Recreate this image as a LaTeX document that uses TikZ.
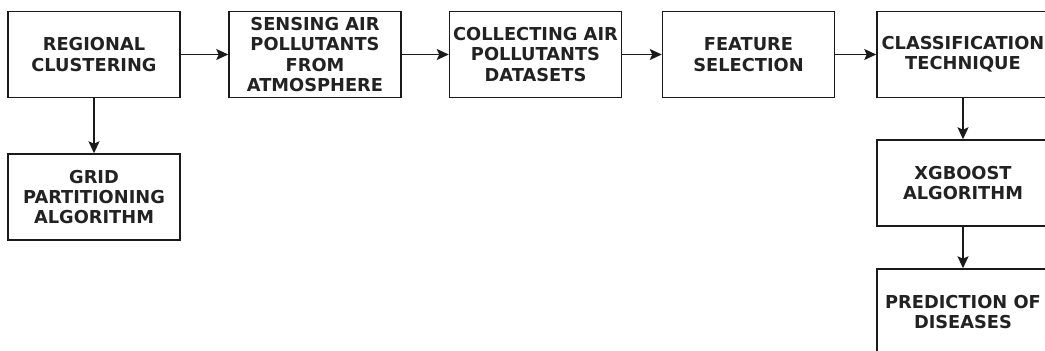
\documentclass[tikz,border=0pt]{standalone}
\usepackage{fontspec}
\setmainfont{DejaVu Sans}
\usetikzlibrary{arrows.meta}
\definecolor{inkline}{HTML}{1A1A1A}
\definecolor{inktext}{HTML}{222222}
\tikzset{
  stepbox/.style={draw=inkline, line width=1.5pt, minimum width=172pt, minimum height=86pt,
    inner sep=0pt, align=center, text=inktext,
    font=\fontsize{17.8pt}{20.3pt}\selectfont\bfseries},
  flow/.style={draw=inkline, line width=1.5pt, -{Stealth[length=12pt,width=11pt,inset=2.5pt]}}
}
\begin{document}
\begin{tikzpicture}[x=1pt,y=-1pt]
\useasboundingbox (0,0) rectangle (1045,351);
\clip (0,0) rectangle (1045,351);
\fill[white] (0,0) rectangle (1045,351);
% top row of the pipeline
\node[stepbox] (reg)  at (94,54.5)  {REGIONAL\\CLUSTERING};
\node[stepbox] (sens) at (315,54.5) {SENSING AIR\\POLLUTANTS\\FROM\\ATMOSPHERE};
\node[stepbox] (coll) at (535.5,54.5) {COLLECTING AIR\\POLLUTANTS\\DATASETS};
\node[stepbox] (feat) at (748.5,54.5) {FEATURE\\SELECTION};
\node[stepbox] (cls)  at (963,54.5) {CLASSIFICATION\\TECHNIQUE};
% branches below
\node[stepbox] (grid) at (94,197)   {GRID\\PARTITIONING\\ALGORITHM};
\node[stepbox] (xgb)  at (963,183)  {XGBOOST\\ALGORITHM};
\node[stepbox] (pred) at (963,312)  {PREDICTION OF\\DISEASES};
% connectors
\draw[flow] (reg)  -- (sens);
\draw[flow] (sens) -- (coll);
\draw[flow] (coll) -- (feat);
\draw[flow] (feat) -- (cls);
\draw[flow] (reg)  -- (grid);
\draw[flow] (cls)  -- (xgb);
\draw[flow] (xgb)  -- (pred);
\end{tikzpicture}
\end{document}
